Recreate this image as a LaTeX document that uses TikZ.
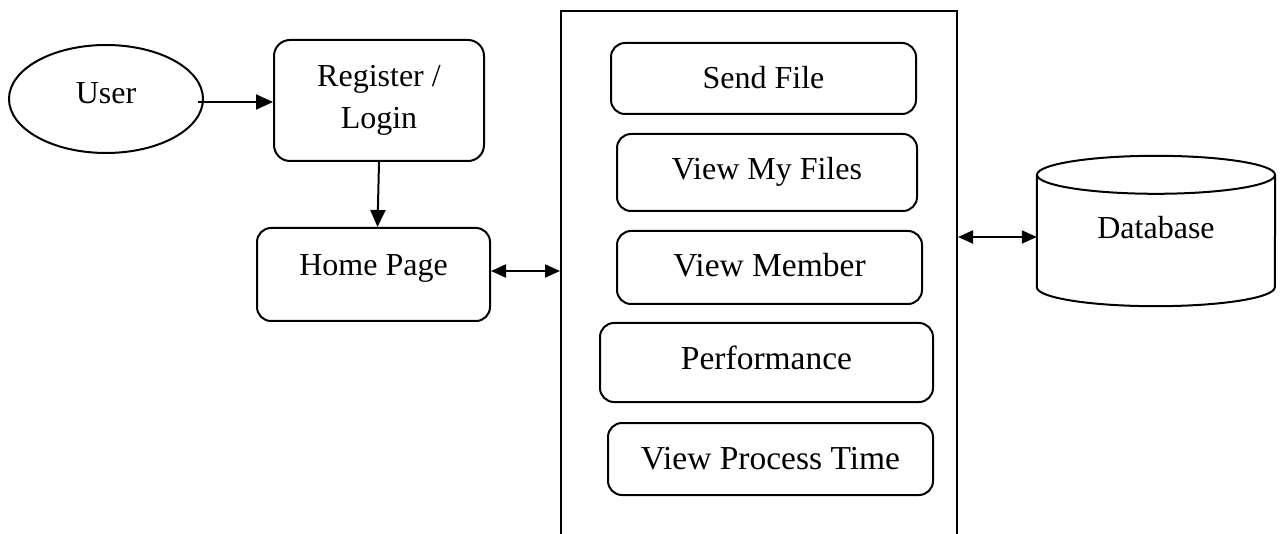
\documentclass[tikz,border=0pt]{standalone}
\usepackage{fontspec}
\setmainfont{Liberation Serif}
\usetikzlibrary{arrows.meta,shapes.geometric}
\begin{document}
\begin{tikzpicture}[x=1pt,y=-1pt,
  stroke/.style={line width=2pt},
  txt/.style={font=\fontsize{32}{42}\selectfont},
  bigtxt/.style={font=\fontsize{33.5}{42}\selectfont},
  oneline/.style={text height=26pt, text depth=#1},
  box/.style={stroke, draw, rounded corners=14pt, inner sep=0pt, txt},
  conn/.style={stroke, -{Triangle[length=17pt,width=15pt]}},
  both/.style={stroke, {Triangle[length=15pt,width=13pt]}-{Triangle[length=15pt,width=13pt]}}]
\useasboundingbox (0,0) rectangle (1287,534);

% actor and entry screens
\node[stroke, draw, ellipse, inner sep=0pt, minimum width=194pt, minimum height=108pt, txt, oneline=16pt] (user) at (106,99) {User};
\node[box, rounded corners=16pt, minimum width=210pt, minimum height=121pt, align=center] (reg) at (379,100.5) {Register /\\Login};
\node[box, minimum width=233pt, minimum height=93pt, oneline=23pt] (home) at (373.5,274.5) {Home Page};

% main panel, open at the bottom edge
\node[stroke, draw, rectangle, minimum width=396pt, minimum height=549pt, inner sep=0pt] (panel) at (759,285.5) {};

% panel actions
\node[box, minimum width=305pt, minimum height=71pt, oneline=5pt] (send) at (763.5,78.5) {Send File};
\node[box, minimum width=300pt, minimum height=77pt, oneline=11pt] (myfiles) at (767,172.5) {View My Files};
\node[box, bigtxt, minimum width=305pt, minimum height=73pt, oneline=7pt] (member) at (769.5,267.5) {View Member};
\node[box, bigtxt, minimum width=333pt, minimum height=79pt, oneline=13pt] (perf) at (766.5,362.5) {Performance};
\node[box, bigtxt, minimum width=325pt, minimum height=72pt, oneline=6pt] (ptime) at (770.5,459) {View Process Time};

% database cylinder
\node[inner sep=0pt, minimum width=238pt, minimum height=112pt, txt, oneline=10pt] (db) at (1156,231) {Database};
\draw[stroke] (db.north west) -- (db.south west)
  arc[start angle=180, end angle=360, x radius=119pt, y radius=19pt] -- (db.north east);
\draw[stroke] (db.north) ellipse[x radius=119pt, y radius=19pt];

% connectors
\coordinate (regin) at ([yshift=-1.5pt]reg.west);
\draw[conn] ([xshift=-6pt]user.east |- regin) -- (regin);
\draw[conn] (reg.south) -- ([xshift=4pt]home.north);
\coordinate (homeout) at ([yshift=3.5pt]home.east);
\draw[both] (homeout) -- (homeout -| panel.west);
\coordinate (dbin) at ([yshift=-6pt]db.west);
\draw[both] (dbin -| panel.east) -- (dbin);
\end{tikzpicture}
\end{document}
